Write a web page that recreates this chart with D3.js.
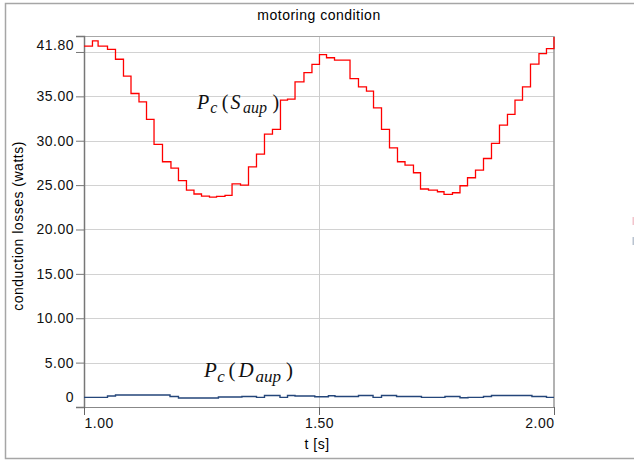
<!DOCTYPE html>
<html>
<head>
<meta charset="utf-8">
<script src="https://cdn.jsdelivr.net/npm/d3@7"></script>
<style>
  body { margin: 0; background: #fff; }
  text { font-family: "Liberation Sans", Arial, sans-serif; }
</style>
</head>
<body>
<div id="chart"></div>
<script>
// step curve for the switch S_aup (time where the step starts, value in watts)
var sTime = [1.000, 1.018, 1.030, 1.050, 1.067, 1.084, 1.100, 1.117, 1.133, 1.149,
             1.167, 1.185, 1.201, 1.218, 1.234, 1.250, 1.267, 1.282, 1.300, 1.315,
             1.333, 1.350, 1.367, 1.384, 1.401, 1.418, 1.433, 1.449, 1.468, 1.485,
             1.501, 1.516, 1.533, 1.566, 1.584, 1.601, 1.616, 1.633, 1.650, 1.667,
             1.683, 1.701, 1.716, 1.733, 1.752, 1.766, 1.784, 1.800, 1.816, 1.833,
             1.850, 1.867, 1.884, 1.901, 1.917, 1.933, 1.950, 1.968, 1.984, 2.000];
var sValue = [40.67, 41.24, 40.67, 40.30, 39.18, 37.27, 35.32, 34.38, 32.40, 29.58,
              27.63, 26.92, 25.50, 24.43, 24.00, 23.75, 23.65, 23.73, 23.85, 25.13,
              25.00, 27.05, 28.50, 30.74, 31.27, 34.57, 34.68, 36.63, 37.68, 38.60,
              39.70, 39.35, 39.08, 37.00, 36.06, 35.58, 33.70, 31.27, 29.20, 27.63,
              27.26, 26.39, 24.56, 24.44, 24.25, 23.96, 24.14, 24.93, 25.83, 26.69,
              28.00, 29.70, 31.76, 32.96, 34.57, 36.06, 38.62, 39.82, 40.38, 41.69];

// diode D_aup
var dTime = [1.000, 1.050, 1.067, 1.183, 1.201, 1.286, 1.336, 1.367, 1.384, 1.417,
             1.433, 1.449, 1.491, 1.520, 1.534, 1.584, 1.615, 1.633, 1.665, 1.718,
             1.768, 1.800, 1.817, 1.850, 1.867, 1.953, 1.984, 2.000];
var dValue = [1.08, 1.24, 1.35, 1.19, 1.01, 1.12, 1.19, 1.08, 1.30, 1.08,
              1.30, 1.24, 1.16, 1.27, 1.19, 1.30, 1.08, 1.30, 1.19, 1.08,
              1.19, 1.05, 1.08, 1.19, 1.30, 1.19, 1.08, 1.08];

var yTicks = [0, 5, 10, 15, 20, 25, 30, 35, 40, 41.8];
var xTicks = [1.0, 1.5, 2.0];

var W = 634, H = 461;
var margin = {top: 36, right: 80, bottom: 54, left: 84};
var width = W - margin.left - margin.right,
    height = H - margin.top - margin.bottom;

var svg = d3.select("#chart").append("svg")
    .attr("width", W)
    .attr("height", H);

// outer frame
svg.append("rect")
    .attr("x", 5.5).attr("y", 3.5)
    .attr("width", 640).attr("height", 455)
    .attr("fill", "none")
    .attr("stroke", "#a6a6a6")
    .attr("stroke-width", 1.5);

// leftovers of the legend swatches at the right edge
svg.append("rect").attr("x", 632.5).attr("y", 217).attr("width", 2).attr("height", 8).attr("fill", "#f2c4cc");
svg.append("rect").attr("x", 632.5).attr("y", 237).attr("width", 2).attr("height", 8).attr("fill", "#b9c3d0");

svg.append("text")
    .attr("x", 319).attr("y", 20)
    .attr("text-anchor", "middle")
    .style("font-size", "14px")
    .style("letter-spacing", "0.5px")
    .text("motoring condition");

var g = svg.append("g")
    .attr("transform", "translate(" + margin.left + "," + margin.top + ")");

var x = d3.scaleLinear().domain([1, 2]).range([0, width]);
var y = d3.scaleLinear().domain([0, 41.8]).range([height, 0]);

// grid
g.selectAll(".hgrid")
  .data(yTicks.filter(function(d) { return d > 0 && d < 41.8; }))
  .enter().append("line")
    .attr("x1", 0).attr("x2", width)
    .attr("y1", function(d) { return Math.round(y(d)) + 0.5; })
    .attr("y2", function(d) { return Math.round(y(d)) + 0.5; })
    .attr("stroke", "#d2d2d2");
g.append("line")
    .attr("x1", Math.round(x(1.5)) + 0.5).attr("x2", Math.round(x(1.5)) + 0.5)
    .attr("y1", 0).attr("y2", height)
    .attr("stroke", "#cccccc");

// frame
g.append("line").attr("x1", 0).attr("x2", width).attr("y1", 0.5).attr("y2", 0.5)
    .attr("stroke", "#a8a8a8");
g.append("line").attr("x1", width).attr("x2", width).attr("y1", 0).attr("y2", height)
    .attr("stroke", "#999").attr("stroke-width", 1.5);

// Y axis
var yAxis = g.append("g")
    .call(d3.axisLeft(y).tickValues(yTicks).tickSize(8).tickPadding(2)
      .tickFormat(function(d) { return d === 40 ? "" : (d === 0 ? "0" : d3.format(".2f")(d)); }));
yAxis.select(".domain").attr("stroke", "#777").attr("stroke-width", 1.5);
yAxis.selectAll(".tick line").attr("stroke", "#777");
yAxis.selectAll(".tick text")
    .attr("fill", "#111")
    .style("font-size", "14px")
    .style("letter-spacing", "0.5px")
    .attr("dy", function(d) { return d === 41.8 ? "0.95em" : (d === 0 ? "-0.4em" : "0.32em"); });

// X axis
var xAxis = g.append("g")
    .attr("transform", "translate(0," + height + ")")
    .call(d3.axisBottom(x).tickValues(xTicks).tickSize(8).tickPadding(3)
      .tickFormat(d3.format(".2f")));
xAxis.select(".domain").attr("stroke", "#888");
xAxis.selectAll(".tick line").attr("stroke", "#666");
xAxis.selectAll(".tick text")
    .attr("fill", "#111")
    .style("font-size", "14px")
    .style("letter-spacing", "0.5px")
    .attr("text-anchor", function(d) { return d === 1 ? "start" : (d === 2 ? "end" : "middle"); });

// axis titles
svg.append("text")
    .attr("x", 317).attr("y", 449)
    .attr("text-anchor", "middle")
    .style("font-size", "14px")
    .style("letter-spacing", "0.5px")
    .text("t [s]");
svg.append("text")
    .attr("transform", "translate(23,226) rotate(-90)")
    .attr("text-anchor", "middle")
    .style("font-size", "14px")
    .style("letter-spacing", "0.5px")
    .text("conduction losses (watts)");

// curves
var sData = sTime.map(function(t, i) { return {t: t, v: sValue[i]}; });
var dData = dTime.map(function(t, i) { return {t: t, v: dValue[i]}; });

var line = d3.line()
    .x(function(d) { return x(d.t); })
    .y(function(d) { return y(d.v); })
    .curve(d3.curveStepAfter);

g.append("path")
    .datum(dData)
    .attr("d", line)
    .attr("fill", "none")
    .attr("stroke", "#24467a")
    .attr("stroke-width", 1.4);

g.append("path")
    .datum(sData)
    .attr("d", line)
    .attr("fill", "none")
    .attr("stroke", "#ff0000")
    .attr("stroke-width", 1.3);

// curve labels: P_c ( X_aup )
// gaps = extra spacing before c, "(", X, aup, ")"
function curveLabel(px, py, size, subSize, shift, sub, gaps) {
  var t = svg.append("text")
      .attr("x", px).attr("y", py)
      .style("font-family", "'Liberation Serif', 'Times New Roman', serif")
      .style("font-size", size + "px")
      .attr("fill", "#111");
  t.append("tspan").style("font-style", "italic").text("P");
  t.append("tspan").style("font-style", "italic").style("font-size", subSize + "px")
      .attr("dx", gaps[0]).attr("dy", shift).text("c");
  t.append("tspan").attr("dx", gaps[1]).attr("dy", -shift).text("(");
  t.append("tspan").style("font-style", "italic").attr("dx", gaps[2]).text(sub);
  t.append("tspan").style("font-style", "italic").style("font-size", subSize + "px")
      .attr("dx", gaps[3]).attr("dy", shift).text("aup");
  t.append("tspan").attr("dx", gaps[4]).attr("dy", -shift).text(")");
}
curveLabel(197, 108.5, 20, 16, 4.5, "S", [1, 4.5, 2, 2.5, 5.5]);
curveLabel(204, 377, 21, 17, 5, "D", [0.5, 3.5, 3, 2, 5]);
</script>
</body>
</html>
